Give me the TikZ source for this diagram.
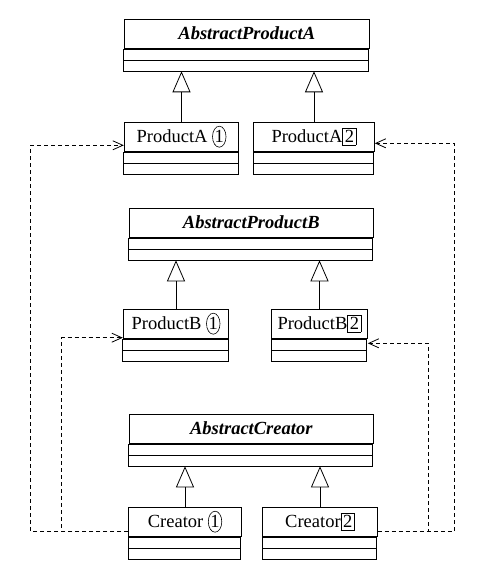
\documentclass[tikz,border=0pt]{standalone}
\usepackage{fontspec}
\setmainfont{Liberation Serif}
\usetikzlibrary{arrows.meta,shapes.geometric}

\tikzset{
  classname/.style={draw, line width=1pt, inner sep=0pt, anchor=north,
    minimum height=29pt, text height=14pt, text depth=3pt,
    font=\fontsize{18.5}{22}\selectfont},
  abstractname/.style={classname, font=\fontsize{18.5}{22}\selectfont\bfseries\itshape},
  inherit/.style={line width=0.8pt, -{Triangle[open,length=21pt,width=18pt]}},
  dep/.style={line width=0.8pt, dash pattern=on 4pt off 3pt,
    -{Straight Barb[length=10pt,width=9pt]}},
}

% circled and boxed numbers after the class names
\newcommand{\numcirc}[1]{\tikz[baseline=(nc.base)]\node[draw,ellipse,line width=0.6pt,inner sep=0pt,minimum width=13.5pt,minimum height=21pt] (nc) {#1};}
\newcommand{\numbox}[1]{{\setlength{\fboxsep}{1.8pt}\setlength{\fboxrule}{0.6pt}\fbox{#1}}}

% name, centre x, top y, width, style, text
\newcommand{\umlclass}[6]{%
  \node[#5, minimum width=#4pt] (#1) at (#2,#3) {#6};
  \draw[line width=1pt] (#1.south west) rectangle ++(#4,11) rectangle ++(-#4,11);
  \coordinate (#1-bot) at ([yshift=-22pt]#1.south);
}

\begin{document}
\begin{tikzpicture}[x=1pt,y=-1pt]
\useasboundingbox (0,0) rectangle (484,567);

% products A
\umlclass{absA}{246.8}{19.3}{245}{abstractname}{AbstractProductA}
\umlclass{pa1}{181.5}{122.3}{114.4}{classname}{ProductA \numcirc{1}}
\umlclass{pa2}{314}{122.3}{120.6}{classname}{ProductA\numbox{2}}

\draw[inherit] (pa1.north) -- (pa1.north |- absA-bot);
\draw[inherit] (pa2.north) -- (pa2.north |- absA-bot);

% products B
\umlclass{absB}{251.3}{208.3}{244}{abstractname}{AbstractProductB}
\umlclass{pb1}{176}{309.3}{105.4}{classname}{ProductB \numcirc{1}}
\umlclass{pb2}{319.5}{309.3}{95.6}{classname}{ProductB\numbox{2}}

\draw[inherit] (pb1.north) -- (pb1.north |- absB-bot);
\draw[inherit] (pb2.north) -- (pb2.north |- absB-bot);

% creators
\umlclass{absC}{251.3}{414.3}{244}{abstractname}{AbstractCreator}
\umlclass{cr1}{185}{507.3}{112.6}{classname}{Creator \numcirc{1}}
\umlclass{cr2}{320}{507.3}{114.6}{classname}{Creator\numbox{2}}

\draw[inherit] (cr1.north) -- (cr1.north |- absC-bot);
\draw[inherit] (cr2.north) -- (cr2.north |- absC-bot);

% dependencies
\coordinate (outerL) at (30.7,0);
\coordinate (innerL) at (61.7,0);
\coordinate (innerR) at (428.3,0);
\coordinate (outerR) at (454.3,0);
\coordinate (cr1-out) at ([yshift=6pt]cr1.south west);
\coordinate (cr2-out) at ([yshift=6pt]cr2.south east);

\draw[dep] (cr1-out) -- (cr1-out -| outerL) |- ([yshift=7pt]pa1.south west);
\draw[dep] (cr1-out) -- (cr1-out -| innerL) |- ([yshift=1.6pt]pb1.south west);
\draw[dep] (cr2-out) -- (cr2-out -| outerR) |- ([yshift=9pt]pa2.south east);
\draw[dep] (cr2-out) -- (cr2-out -| innerR) |- ([yshift=-4pt]pb2.south east);
\end{tikzpicture}
\end{document}
